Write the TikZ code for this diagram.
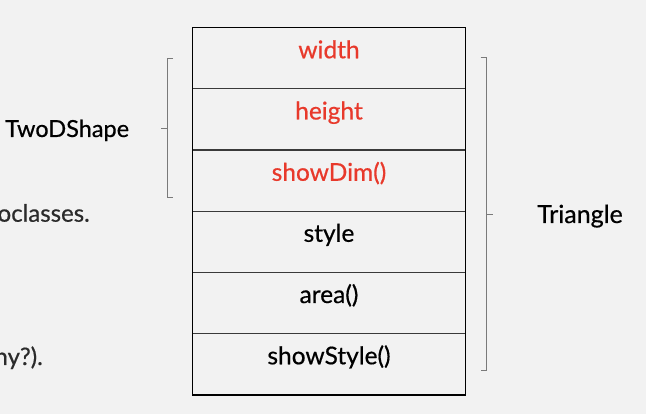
\documentclass[tikz,border=0pt]{standalone}
\usepackage{fontspec}
\setmainfont{Lato}[FakeBold=0.5]
\begin{document}
\begin{tikzpicture}[x=1pt,y=-1pt,
  rowtext/.style={anchor=base,inner sep=0pt,font=\fontsize{24.5}{28}\selectfont},
  redtext/.style={rowtext,text=accentred},
  sidetext/.style={anchor=base west,inner sep=0pt,font=\fontsize{24}{28}\selectfont},
  bracket/.style={draw=bracegray,line width=0.9pt},
  rowline/.style={draw=rowgray,line width=1.3pt}]
\definecolor{bg}{HTML}{F2F2F2}
\definecolor{accentred}{HTML}{E8392B}
\definecolor{bracegray}{HTML}{7A7A7A}
\definecolor{rowgray}{HTML}{3A3A3A}
\definecolor{lefttext}{HTML}{2B2B2B}
\fill[bg] (0,0) rectangle (646,414);
\useasboundingbox (0,0) rectangle (646,414);
% table
\coordinate (tl) at (192.5,27.5);
\coordinate (br) at (465.7,395);
\foreach \y [count=\i] in {88.75,150,211.25,272.5,333.75}{
  \draw[rowline] (192.5,\y) -- (465.7,\y);
}
\draw[line width=1.4pt,black] (tl) rectangle (br);
\node[redtext] (w) at (329,58.3) {width};
\node[redtext] (h) at (329,119.5) {height};
\node[redtext] (sd) at (329,180.8) {showDim()};
\node[rowtext] (st) at (329,241.8) {style};
\node[rowtext] (ar) at (329,303) {area()};
\node[rowtext] (ss) at (329,364.3) {showStyle()};
% left bracket
\coordinate (lb1) at (173,58);
\coordinate (lb2) at (167.3,58);
\coordinate (lb3) at (167.3,197);
\coordinate (lb4) at (173,197);
\coordinate (lbm) at (167.3,128);
\coordinate (lbt) at (161,128);
\draw[bracket] (lb1) -- (lb2) -- (lb3) -- (lb4);
\draw[bracket] (lbm) -- (lbt);
% right bracket
\coordinate (rb1) at (480.7,57.7);
\coordinate (rb2) at (486.7,57.7);
\coordinate (rb3) at (486.7,370.7);
\coordinate (rb4) at (480.7,370.7);
\coordinate (rbm) at (486.7,214);
\coordinate (rbt) at (493,214);
\draw[bracket] (rb1) -- (rb2) -- (rb3) -- (rb4);
\draw[bracket] (rbm) -- (rbt);
% side texts
\node[sidetext,text=black,font=\fontsize{23.5}{28}\selectfont] (two) at (5,137) {TwoDShape};
\node[sidetext,text=black,font=\fontsize{25}{28}\selectfont] (tri) at (537,223) {Triangle};
\node[sidetext,text=lefttext,anchor=base east] (sub) at (90,221.7) {oclasses.};
\node[sidetext,text=lefttext,anchor=base east] (why) at (43,365) {ny?).};
\end{tikzpicture}
\end{document}
